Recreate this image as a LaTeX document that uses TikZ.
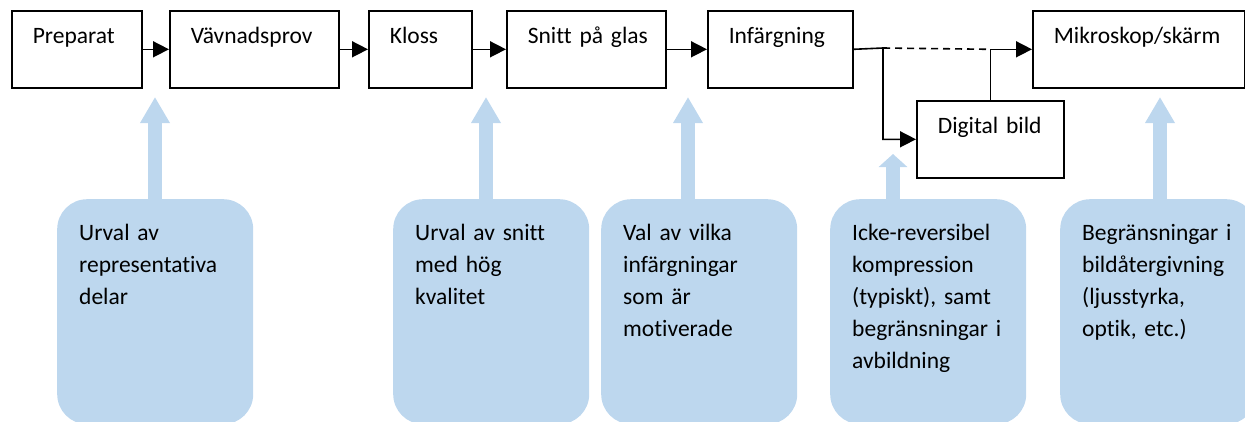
\documentclass[tikz,border=0pt]{standalone}
\usepackage{fontspec}
\setmainfont[Ligatures=NoCommon]{Carlito}
\usepackage{xcolor}
\usetikzlibrary{arrows.meta,positioning,calc}
\definecolor{noteblue}{HTML}{BDD7EE}
\hyphenpenalty=10000
\exhyphenpenalty=10000

\begin{document}
\begin{tikzpicture}[
  x=1pt, y=-1pt,
  font=\fontsize{23.5pt}{32pt}\selectfont,
  box/.style={draw, line width=1.6pt, anchor=north west, inner xsep=21pt, inner ysep=0pt,
    text height=33pt, text depth=44pt, align=left, text width=#1},
  note/.style={fill=noteblue, rounded corners=30pt, anchor=north west, inner xsep=22pt, inner ysep=0pt,
    text height=41pt, text depth=184pt, align=left, text width=152pt},
  arr/.style={line width=1.6pt, -{Triangle[length=16pt, width=16pt]}},
  uparr/.style={draw=noteblue, line width=14pt, -{Triangle[length=#1, width=28pt]}},
  uparr/.default=26pt
]
\useasboundingbox (0,0) rectangle (1245,421);
% process chain
\node[box=88pt] (prep) at (11,10) {Preparat};
\node[box=127pt] (vav) at (169,10) {Vävnadsprov};
\node[box=61pt] (kloss) at (368,10) {Kloss};
\node[box=117pt] (snitt) at (506,10) {Snitt~på~glas};
\node[box=103pt] (infarg) at (707,10) {Infärgning};
\node[box=170pt] (mikro) at (1032,10) {Mikroskop/skärm};
\node[box=105pt] (dig) at (916,100) {Digital~bild};
\draw[arr] (prep) -- (vav);
\draw[arr] (vav) -- (kloss);
\draw[arr] (kloss) -- (snitt);
\draw[arr] (snitt) -- (infarg);
\coordinate (split) at (883,48);
\draw[line width=1.6pt, dash pattern=on 7pt off 5pt] (split) -- (dig.north |- mikro.west);
\draw[arr] (infarg.east) -- (split) |- (dig.west);
\draw[arr] (dig.north) |- (mikro.west);
% notes below
\node[note] (n1) at (57,199) {Urval av\\representativa\\delar};
\node[note] (n2) at (393,199) {Urval av snitt\\med hög\\kvalitet};
\node[note] (n3) at (601,199) {Val av vilka\\infärgningar\\som är\\motiverade};
\node[note] (n4) at (830,199) {Icke-reversibel\\kompression\\(typiskt), samt\\begränsningar~i\\avbildning};
\node[note] (n5) at (1060,199) {Begränsningar~i\\bildåtergivning\\(ljusstyrka,\\optik, etc.)};
\coordinate (t1) at (155,97);
\coordinate (t2) at (486,97);
\coordinate (t3) at (688,97);
\coordinate (t4) at (893,154);
\coordinate (t5) at (1160,97);
\draw[uparr] (t1 |- n1.north) -- (t1);
\draw[uparr] (t2 |- n2.north) -- (t2);
\draw[uparr] (t3 |- n3.north) -- (t3);
\draw[uparr=13pt] (t4 |- n4.north) -- (t4);
\draw[uparr] (t5 |- n5.north) -- (t5);
\end{tikzpicture}
\end{document}
